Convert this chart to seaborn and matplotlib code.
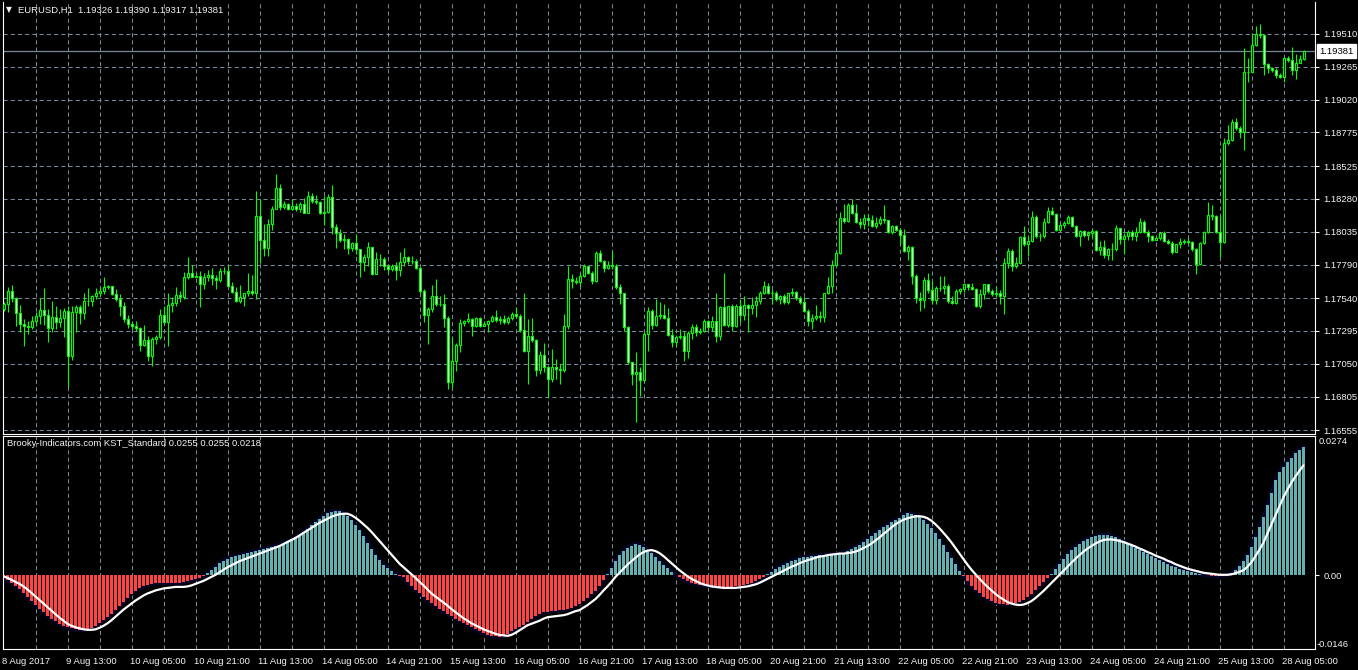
import numpy as np
import matplotlib
matplotlib.use("Agg")
import matplotlib.pyplot as plt
import matplotlib.transforms as mtrans
from matplotlib import font_manager
import seaborn as sns

# EURUSD H1 candles (open = previous close)
first_open = 1.17458
close = [
    1.17496, 1.17590, 1.17538, 1.17426, 1.17347, 1.17334, 1.17322, 1.17367, 1.17404, 1.17451,
    1.17416, 1.17315, 1.17396, 1.17359, 1.17391, 1.17441, 1.17111, 1.17434, 1.17471, 1.17429,
    1.17515, 1.17520, 1.17553, 1.17575, 1.17592, 1.17622, 1.17627, 1.17570, 1.17533, 1.17478,
    1.17384, 1.17347, 1.17329, 1.17315, 1.17193, 1.17225, 1.17106, 1.17235, 1.17248, 1.17414,
    1.17359, 1.17488, 1.17501, 1.17563, 1.17545, 1.17694, 1.17731, 1.17701, 1.17706, 1.17644,
    1.17699, 1.17716, 1.17692, 1.17677, 1.17746, 1.17741, 1.17632, 1.17587, 1.17520, 1.17545,
    1.17575, 1.17590, 1.17582, 1.18153, 1.17974, 1.17917, 1.18096, 1.18202, 1.18364, 1.18222,
    1.18240, 1.18207, 1.18227, 1.18207, 1.18245, 1.18178, 1.18302, 1.18264, 1.18257, 1.18178,
    1.18185, 1.18297, 1.18073, 1.18029, 1.17972, 1.17984, 1.17917, 1.17949, 1.17905, 1.17813,
    1.17850, 1.17922, 1.17721, 1.17830, 1.17835, 1.17781, 1.17756, 1.17776, 1.17749, 1.17806,
    1.17843, 1.17818, 1.17818, 1.17763, 1.17595, 1.17416, 1.17458, 1.17558, 1.17493, 1.17495,
    1.17389, 1.16913, 1.17069, 1.17190, 1.17352, 1.17369, 1.17384, 1.17329, 1.17391, 1.17334,
    1.17347, 1.17366, 1.17396, 1.17376, 1.17384, 1.17359, 1.17391, 1.17421, 1.17409, 1.17302,
    1.17148, 1.17260, 1.17230, 1.17007, 1.17116, 1.17029, 1.16937, 1.17024, 1.17012, 1.17007,
    1.17329, 1.17681, 1.17669, 1.17657, 1.17706, 1.17776, 1.17731, 1.17669, 1.17880, 1.17818,
    1.17768, 1.17786, 1.17781, 1.17624, 1.17582, 1.17322, 1.17061, 1.16972, 1.16987, 1.16932,
    1.17272, 1.17446, 1.17342, 1.17404, 1.17414, 1.17394, 1.17267, 1.17215, 1.17247, 1.17260,
    1.17148, 1.17280, 1.17322, 1.17285, 1.17297, 1.17366, 1.17322, 1.17366, 1.17260, 1.17471,
    1.17342, 1.17478, 1.17334, 1.17478, 1.17416, 1.17488, 1.17468, 1.17488, 1.17520, 1.17582,
    1.17627, 1.17582, 1.17575, 1.17533, 1.17557, 1.17508, 1.17575, 1.17587, 1.17538, 1.17508,
    1.17446, 1.17371, 1.17389, 1.17404, 1.17396, 1.17575, 1.17632, 1.17786, 1.17880, 1.18140,
    1.18115, 1.18232, 1.18177, 1.18108, 1.18091, 1.18138, 1.18125, 1.18076, 1.18101, 1.18133,
    1.18121, 1.18034, 1.18076, 1.18051, 1.18009, 1.17890, 1.17922, 1.17704, 1.17543, 1.17523,
    1.17672, 1.17598, 1.17526, 1.17617, 1.17612, 1.17630, 1.17518, 1.17506, 1.17593, 1.17605,
    1.17647, 1.17622, 1.17605, 1.17481, 1.17568, 1.17642, 1.17593, 1.17573, 1.17580, 1.17555,
    1.17803, 1.17890, 1.17779, 1.17803, 1.17994, 1.17940, 1.17965, 1.18146, 1.18002, 1.18007,
    1.18108, 1.18188, 1.18170, 1.18051, 1.18084, 1.18101, 1.18146, 1.18081, 1.18002, 1.18044,
    1.18014, 1.18027, 1.18044, 1.17898, 1.17925, 1.17860, 1.17903, 1.17903, 1.18064, 1.17982,
    1.18002, 1.18034, 1.18002, 1.18034, 1.18108, 1.18032, 1.18002, 1.17972, 1.17989, 1.18027,
    1.17965, 1.17952, 1.17883, 1.17940, 1.17960, 1.17965, 1.17957, 1.17903, 1.17791, 1.17952,
    1.18034, 1.18163, 1.18151, 1.18034, 1.17960, 1.18696, 1.18721, 1.18857, 1.18808, 1.18776,
    1.19229, 1.19224, 1.19428, 1.19507, 1.19502, 1.19284, 1.19254, 1.19242, 1.19200, 1.19192,
    1.19329, 1.19314, 1.19242, 1.19291, 1.19326, 1.19381,
]
high = [
    1.17513, 1.17620, 1.17637, 1.17545, 1.17488, 1.17384, 1.17372, 1.17409, 1.17434, 1.17538,
    1.17615, 1.17458, 1.17520, 1.17483, 1.17458, 1.17463, 1.17483, 1.17483, 1.17491, 1.17488,
    1.17582, 1.17615, 1.17563, 1.17612, 1.17620, 1.17694, 1.17637, 1.17632, 1.17607, 1.17570,
    1.17508, 1.17414, 1.17372, 1.17372, 1.17322, 1.17342, 1.17260, 1.17248, 1.17265, 1.17458,
    1.17483, 1.17582, 1.17545, 1.17620, 1.17595, 1.17736, 1.17843, 1.17786, 1.17731, 1.17744,
    1.17731, 1.17751, 1.17761, 1.17711, 1.17761, 1.17773, 1.17786, 1.17657, 1.17620, 1.17639,
    1.17582, 1.17731, 1.17716, 1.18339, 1.18282, 1.18091, 1.18133, 1.18227, 1.18463, 1.18388,
    1.18264, 1.18252, 1.18277, 1.18252, 1.18257, 1.18289, 1.18339, 1.18326, 1.18309, 1.18264,
    1.18302, 1.18319, 1.18381, 1.18091, 1.18054, 1.18016, 1.17992, 1.17959, 1.18016, 1.17910,
    1.17868, 1.17959, 1.17925, 1.17885, 1.17868, 1.17850, 1.17798, 1.17793, 1.17811, 1.17887,
    1.17917, 1.17855, 1.17855, 1.17830, 1.17781, 1.17607, 1.17471, 1.17637, 1.17682, 1.17557,
    1.17570, 1.17409, 1.17247, 1.17203, 1.17384, 1.17379, 1.17426, 1.17389, 1.17401, 1.17401,
    1.17371, 1.17379, 1.17414, 1.17451, 1.17409, 1.17416, 1.17404, 1.17433, 1.17471, 1.17421,
    1.17575, 1.17384, 1.17389, 1.17235, 1.17148, 1.17205, 1.17037, 1.17161, 1.17086, 1.17049,
    1.17421, 1.17776, 1.17719, 1.17701, 1.17731, 1.17793, 1.17781, 1.17743, 1.17892, 1.17897,
    1.17825, 1.17818, 1.17890, 1.17793, 1.17644, 1.17545, 1.17329, 1.17066, 1.17136, 1.17024,
    1.17285, 1.17471, 1.17458, 1.17533, 1.17508, 1.17495, 1.17466, 1.17309, 1.17265, 1.17309,
    1.17297, 1.17292, 1.17347, 1.17347, 1.17317, 1.17384, 1.17376, 1.17409, 1.17577, 1.17483,
    1.17731, 1.17483, 1.17495, 1.17495, 1.17533, 1.17557, 1.17495, 1.17545, 1.17557, 1.17595,
    1.17669, 1.17652, 1.17607, 1.17595, 1.17562, 1.17570, 1.17582, 1.17619, 1.17595, 1.17557,
    1.17545, 1.17458, 1.17421, 1.17488, 1.17446, 1.17582, 1.17694, 1.17825, 1.17892, 1.18185,
    1.18239, 1.18247, 1.18277, 1.18239, 1.18140, 1.18165, 1.18165, 1.18163, 1.18143, 1.18151,
    1.18237, 1.18126, 1.18089, 1.18089, 1.18064, 1.18059, 1.17935, 1.17927, 1.17717, 1.17585,
    1.17697, 1.17724, 1.17667, 1.17630, 1.17704, 1.17704, 1.17642, 1.17555, 1.17605, 1.17617,
    1.17655, 1.17647, 1.17655, 1.17612, 1.17605, 1.17647, 1.17647, 1.17605, 1.17630, 1.17598,
    1.17836, 1.17915, 1.17903, 1.17846, 1.18002, 1.18076, 1.17994, 1.18188, 1.18163, 1.18027,
    1.18138, 1.18218, 1.18218, 1.18175, 1.18101, 1.18113, 1.18163, 1.18156, 1.18089, 1.18051,
    1.18051, 1.18044, 1.18059, 1.18051, 1.17965, 1.17977, 1.17915, 1.17952, 1.18089, 1.18064,
    1.18027, 1.18051, 1.18051, 1.18069, 1.18138, 1.18126, 1.18051, 1.18014, 1.18007, 1.18034,
    1.18044, 1.17982, 1.17965, 1.17945, 1.17989, 1.17982, 1.17989, 1.17965, 1.17915, 1.17957,
    1.18044, 1.18257, 1.18232, 1.18163, 1.18151, 1.18733, 1.18833, 1.18877, 1.18882, 1.18820,
    1.19403, 1.19334, 1.19507, 1.19569, 1.19582, 1.19507, 1.19291, 1.19267, 1.19254, 1.19217,
    1.19341, 1.19348, 1.19410, 1.19358, 1.19354, 1.19390,
]
low = [
    1.17446, 1.17434, 1.17513, 1.17329, 1.17285, 1.17186, 1.17272, 1.17310, 1.17334, 1.17347,
    1.17339, 1.17215, 1.17285, 1.17310, 1.17322, 1.17248, 1.16876, 1.17081, 1.17285, 1.17347,
    1.17384, 1.17483, 1.17483, 1.17533, 1.17558, 1.17570, 1.17607, 1.17563, 1.17520, 1.17409,
    1.17359, 1.17315, 1.17310, 1.17297, 1.17148, 1.17186, 1.17074, 1.17037, 1.17198, 1.17235,
    1.17347, 1.17181, 1.17434, 1.17483, 1.17508, 1.17533, 1.17682, 1.17694, 1.17694, 1.17476,
    1.17607, 1.17669, 1.17637, 1.17607, 1.17657, 1.17719, 1.17627, 1.17582, 1.17513, 1.17503,
    1.17478, 1.17558, 1.17563, 1.17533, 1.17801, 1.17855, 1.17855, 1.18046, 1.18202, 1.18197,
    1.18202, 1.18197, 1.18195, 1.18190, 1.18183, 1.18173, 1.18173, 1.18252, 1.18240, 1.18165,
    1.18083, 1.18178, 1.18016, 1.17917, 1.17959, 1.17905, 1.17868, 1.17892, 1.17868, 1.17694,
    1.17744, 1.17781, 1.17711, 1.17719, 1.17781, 1.17751, 1.17731, 1.17744, 1.17677, 1.17706,
    1.17781, 1.17798, 1.17793, 1.17756, 1.17582, 1.17359, 1.17198, 1.17434, 1.17483, 1.17483,
    1.17322, 1.16863, 1.16875, 1.16999, 1.17136, 1.17334, 1.17352, 1.17260, 1.17322, 1.17322,
    1.17329, 1.17290, 1.17359, 1.17359, 1.17347, 1.17347, 1.17347, 1.17379, 1.17401, 1.17285,
    1.17141, 1.16900, 1.17210, 1.16962, 1.16975, 1.16987, 1.16801, 1.16918, 1.16937, 1.16900,
    1.16992, 1.17309, 1.17619, 1.17644, 1.17632, 1.17694, 1.17719, 1.17644, 1.17662, 1.17810,
    1.17736, 1.17756, 1.17756, 1.17607, 1.17495, 1.17297, 1.17049, 1.16895, 1.16620, 1.16813,
    1.16918, 1.17148, 1.17309, 1.17334, 1.17384, 1.17384, 1.17260, 1.17173, 1.17180, 1.17235,
    1.17074, 1.17094, 1.17235, 1.17260, 1.17272, 1.17290, 1.17302, 1.17297, 1.17210, 1.17230,
    1.17334, 1.17322, 1.17297, 1.17322, 1.17359, 1.17379, 1.17290, 1.17421, 1.17401, 1.17495,
    1.17570, 1.17570, 1.17495, 1.17520, 1.17495, 1.17495, 1.17495, 1.17557, 1.17528, 1.17495,
    1.17433, 1.17334, 1.17309, 1.17379, 1.17359, 1.17364, 1.17570, 1.17582, 1.17781, 1.17867,
    1.18103, 1.18108, 1.18165, 1.18103, 1.18066, 1.18058, 1.18078, 1.18069, 1.18064, 1.18084,
    1.18101, 1.18027, 1.18019, 1.18044, 1.17940, 1.17885, 1.17828, 1.17647, 1.17506, 1.17444,
    1.17464, 1.17580, 1.17493, 1.17493, 1.17593, 1.17573, 1.17506, 1.17493, 1.17498, 1.17573,
    1.17588, 1.17598, 1.17598, 1.17474, 1.17469, 1.17531, 1.17580, 1.17555, 1.17548, 1.17498,
    1.17419, 1.17766, 1.17746, 1.17766, 1.17796, 1.17927, 1.17853, 1.17960, 1.17989, 1.17965,
    1.17989, 1.18101, 1.18158, 1.18044, 1.18039, 1.18064, 1.18094, 1.18071, 1.17994, 1.17927,
    1.17994, 1.17977, 1.17989, 1.17890, 1.17865, 1.17841, 1.17828, 1.17828, 1.17895, 1.17940,
    1.17870, 1.17977, 1.17970, 1.17965, 1.18022, 1.18022, 1.17960, 1.17965, 1.17970, 1.17977,
    1.17957, 1.17940, 1.17870, 1.17885, 1.17915, 1.17940, 1.17940, 1.17890, 1.17722, 1.17786,
    1.17940, 1.18027, 1.18126, 1.18027, 1.17846, 1.17952, 1.18679, 1.18709, 1.18795, 1.18733,
    1.18647, 1.19155, 1.19366, 1.19423, 1.19482, 1.19205, 1.19217, 1.19229, 1.19185, 1.19180,
    1.19148, 1.19304, 1.19200, 1.19175, 1.19291, 1.19317,
]

# KST histogram and its signal line, in units of 0.0001
kst_e4 = [
    -3, -9, -15, -21, -28, -35, -43, -51, -59, -66, -73, -80, -86, -91, -96, -100, -103, -105, -107, -108,
    -108, -106, -104, -101, -95, -89, -83, -76, -68, -60, -52, -44, -37, -31, -26, -22, -19, -17, -16, -15,
    -15, -15, -15, -16, -16, -14, -12, -10, -8, -5, -2,
    4, 10, 17, 24, 29, 33, 36, 38, 40, 42, 44, 46, 48, 50, 52, 54, 56, 58, 60, 63,
    67, 71, 75, 80, 86, 92, 99, 106, 112, 118, 123, 126, 128, 127, 124, 118, 109, 99, 90, 78,
    65, 52, 40, 30, 21, 14, 8, 3, -1,
    -4, -14, -22, -29, -36, -42, -49, -55, -61, -66, -71, -76, -81, -86, -90, -94, -99, -103, -107, -111,
    -115, -118, -120, -121, -122, -121, -116, -111, -107, -103, -98, -92, -86, -81, -76, -73, -72, -71, -70, -69,
    -69, -66, -64, -60, -56, -50, -44, -38, -32, -22, -10,
    2, 14, 28, 40, 48, 55, 59, 62, 61, 57, 51, 44, 37, 29, 21, 14, 7, 1,
    -4, -8, -12, -15, -17, -19, -20, -21, -22, -23, -23, -23, -23, -23, -22, -21, -19, -17, -15, -12, -8, -4,
    2, 7, 12, 17, 21, 25, 28, 31, 34, 36, 37, 38, 39, 40, 40, 41, 41, 42, 43, 45,
    48, 52, 56, 60, 66, 72, 78, 84, 90, 95, 100, 105, 109, 113, 120, 123, 122, 119, 115, 110,
    102, 93, 83, 72, 60, 47, 34, 22, 9,
    -2, -12, -21, -29, -36, -42, -47, -51, -54, -56, -57, -58, -57, -55, -52, -48, -43, -37, -30, -22, -14, -6,
    3, 13, 22, 32, 42, 50, 57, 63, 68, 72, 75, 77, 79, 80, 80, 78, 75, 71, 67, 63,
    59, 55, 51, 47, 43, 39, 35, 31, 27, 23, 19, 16, 13, 10, 8, 6, 4, 3, 1, 0,
    -1, -2, -2, -1, 0, 5, 10, 18, 29, 40, 57, 76, 96, 116, 139, 163, 189, 205, 215, 225,
    232, 242, 248, 255,
]
signal_e4 = [
    -2, -5, -9, -13, -17, -22, -28, -35, -42, -49, -56, -63, -70, -77, -84, -90, -96, -100, -103, -105,
    -107, -108, -108, -107, -104, -100, -95, -89, -82, -75, -68, -62, -56, -50, -45, -40, -36, -33, -30, -28,
    -26, -25, -24, -23, -23, -23, -22, -20, -17, -14, -11,
    -7, -3, 1, 6, 11, 16, 20, 24, 28, 31, 34, 37, 40, 43, 46, 49, 52, 55, 58, 62,
    66, 70, 74, 79, 84, 89, 94, 99, 104, 108, 112, 116, 119, 121, 122, 122, 119, 114, 108, 101,
    94, 86, 77, 68, 59, 50, 41, 32, 23,
    16, 9, 2, -5, -13, -20, -28, -36, -42, -48, -54, -60, -67, -73, -79, -85, -90, -95, -99, -103,
    -107, -110, -113, -116, -118, -119, -120, -118, -114, -109, -104, -99, -96, -93, -90, -86, -83, -82, -81, -80,
    -79, -77, -74, -71, -69, -64, -59, -53, -47, -39, -30, -22, -13, -3, 5,
    13, 21, 28, 35, 41, 46, 49, 50, 48, 44, 38, 31, 24, 17, 10, 4, -2, -7, -11, -15,
    -18, -20, -22, -23, -24, -25, -25, -25, -25, -24, -23, -22, -20, -18, -15, -11,
    -7, -3, 1, 5, 9, 13, 17, 20, 24, 27, 30, 32, 35, 37, 38, 40, 41, 42, 43, 43,
    44, 45, 47, 50, 54, 58, 63, 69, 75, 82, 88, 95, 101, 106, 110, 113, 115, 117, 117, 116,
    113, 108, 101, 93, 84, 75, 65, 54, 43,
    32, 21, 11, 2, -7, -15, -23, -30, -37, -43, -48, -53, -56, -58, -59, -58, -55, -51, -45, -38,
    -31, -23, -15, -7, 1, 9, 17, 25, 33, 40, 47, 53, 58, 63, 67, 70, 71, 71, 70, 68,
    66, 63, 60, 57, 53, 50, 46, 43, 39, 36, 33, 29, 26, 22, 19, 16, 13, 11, 9, 7,
    5, 4, 3, 2, 1, 1, 1,
    2, 4, 7, 10, 17, 26, 38, 51, 65, 83, 101, 119, 137, 155, 170, 184, 196, 207, 218,
]

price_ticks = [1.19510, 1.19265, 1.19020, 1.18775, 1.18525, 1.18280, 1.18035,
               1.17790, 1.17540, 1.17295, 1.17050, 1.16805, 1.16555]
date_labels = ["8 Aug 2017", "9 Aug 13:00", "10 Aug 05:00", "10 Aug 21:00", "11 Aug 13:00",
               "14 Aug 05:00", "14 Aug 21:00", "15 Aug 13:00", "16 Aug 05:00", "16 Aug 21:00",
               "17 Aug 13:00", "18 Aug 05:00", "20 Aug 21:00", "21 Aug 13:00", "22 Aug 05:00",
               "22 Aug 21:00", "23 Aug 13:00", "24 Aug 05:00", "24 Aug 21:00", "25 Aug 13:00",
               "28 Aug 05:00"]
last_price = 1.19381
kst_max, kst_min = 0.0274, -0.0146
title_main = "EURUSD,H1  1.19326 1.19390 1.19317 1.19381"
title_ind = "Brooky-Indicators.com KST_Standard 0.0255 0.0255 0.0218"

# colours
BG = "black"
GRID = "#778899"
CANDLE = "#00ff00"
TEAL = "#62b0b0"
RED = "#ff4444"
NAVY = "#05052a"
TXT = "#f4f4f4"

sns.set_style("dark", {"axes.facecolor": BG, "figure.facecolor": BG})
installed = {f.name for f in font_manager.fontManager.ttflist}
if "Liberation Sans Narrow" in installed:
    plt.rcParams["font.family"] = ["Liberation Sans Narrow", "DejaVu Sans"]
    FS = 7.9
else:
    plt.rcParams["font.family"] = ["Liberation Sans", "DejaVu Sans"]
    FS = 6.8
plt.rcParams["lines.scale_dashes"] = False

c = np.array(close)
o = np.r_[first_open, c[:-1]]
h = np.array(high)
l = np.array(low)
kst = np.array(kst_e4) * 1e-4
sig = np.array(signal_e4) * 1e-4
n = len(c)
x = np.arange(n)

W, H = 1358, 670
fig = plt.figure(figsize=(W / 100, H / 100), dpi=100)


def box(left, top, right, bottom):
    return [left / W, 1 - bottom / H, (right - left) / W, (bottom - top) / H]


ax1 = fig.add_axes(box(3, 2, 1315, 434))
ax2 = fig.add_axes(box(3, 436, 1315, 649))

# bar i sits at pixel 3.5 + 4 i
xlim = ((3 - 3.5) / 4, (1315 - 3.5) / 4)
dash = (0, (3, 2.2))

for ax in (ax1, ax2):
    ax.set_facecolor(BG)
    ax.set_xlim(*xlim)
    for b in range(8, n + 8, 8):
        ax.axvline(b, color=GRID, lw=0.75, ls=dash, zorder=0)
    for s in ax.spines.values():
        s.set_color("white")
        s.set_linewidth(0.8)
        s.set_visible(True)
    ax.grid(False)

# ---- price panel ----
ax1.set_ylim(1.16527, 1.19748)
for p in price_ticks:
    ax1.axhline(p, color=GRID, lw=0.75, ls=dash, zorder=0)
ax1.axhline(last_price, color=GRID, lw=0.9, zorder=1)

body_lo = np.minimum(o, c)
body_hi = np.maximum(o, c)
ax1.vlines(x, np.minimum(l, body_lo), np.maximum(h, body_hi), color=CANDLE, lw=0.8, zorder=2)
fill = np.where(c >= o, "black", "white")
ax1.bar(x, np.maximum(body_hi - body_lo, 1e-6), bottom=body_lo, width=0.5,
        color=fill, edgecolor=CANDLE, linewidth=0.8, zorder=3)

ax1.yaxis.tick_right()
ax1.set_yticks(price_ticks)
ax1.set_yticklabels([f"{p:.5f}" for p in price_ticks])
ax1.tick_params(axis="y", colors="white", labelcolor=TXT, length=3, width=0.8,
                pad=3, labelsize=FS, left=False, labelleft=False)
ax1.set_xticks([])
ax1.spines["top"].set_visible(False)

ax1.text(1.0 + 4 / 1312, last_price, f"{last_price:.5f}", color="black", fontsize=FS,
         va="center", ha="left",
         transform=mtrans.blended_transform_factory(ax1.transAxes, ax1.transData),
         bbox=dict(facecolor="white", edgecolor="white", pad=1.8), zorder=5, clip_on=False)

# ---- indicator panel ----
ax2.set_ylim(kst_min, 0.0276)
colors = np.where(kst >= 0, TEAL, RED)
sns.lineplot(x=x, y=kst, ax=ax2, color=NAVY, lw=3.0, zorder=1, legend=False)
ax2.bar(x, kst, width=0.72, color=colors, linewidth=0, zorder=2)
sns.lineplot(x=x, y=sig, ax=ax2, color="white", lw=1.6, zorder=3, legend=False)
ax2.set_xlabel("")
ax2.set_ylabel("")

ax2.yaxis.tick_right()
ax2.set_yticks([0.0])
ax2.set_yticklabels(["0.00"])
ax2.tick_params(axis="y", colors="white", labelcolor=TXT, length=3, width=0.8,
                pad=3, labelsize=FS, left=False, labelleft=False)
blend = mtrans.blended_transform_factory(ax2.transAxes, ax2.transData)
ax2.text(1.0 + 4 / 1312, kst_max, f"{kst_max:.4f}", color=TXT, fontsize=FS,
         va="top", ha="left", transform=blend, clip_on=False)
ax2.text(1.0 + 2 / 1312, kst_min, f"{kst_min:.4f}", color=TXT, fontsize=FS,
         va="bottom", ha="left", transform=blend, clip_on=False)

ax2.set_xticks(np.arange(len(date_labels)) * 16)
ax2.set_xticklabels(date_labels)
ax2.tick_params(axis="x", colors="white", labelcolor=TXT, length=4, width=0.8,
                pad=1.5, labelsize=FS)
shift = mtrans.ScaledTranslation(-1 / 100, 0, fig.dpi_scale_trans)
for lab in ax2.get_xticklabels():
    lab.set_horizontalalignment("left")
    lab.set_transform(lab.get_transform() + shift)

# ---- header texts ----
fig.text(6 / W, 1 - 10 / H, "\u25bc", color=TXT, fontsize=5.5, va="center", ha="left",
         family=["DejaVu Sans"])
fig.text(18 / W, 1 - 10 / H, title_main, color=TXT, fontsize=FS, va="center", ha="left")
fig.text(7 / W, 1 - 444 / H, title_ind, color=TXT, fontsize=FS, va="center", ha="left")

fig.savefig("out.png", dpi=100, facecolor=BG)
